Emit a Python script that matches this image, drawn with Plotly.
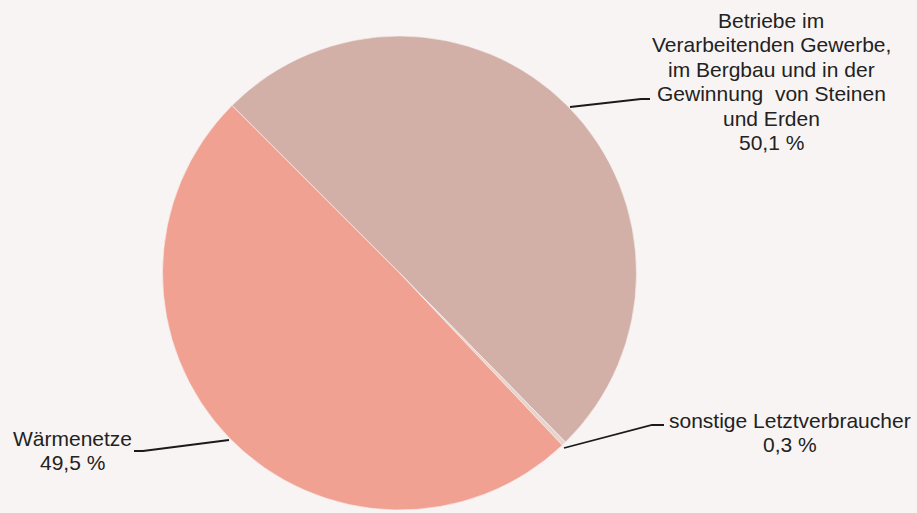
import plotly.graph_objects as go

W, H = 917, 513

labels = [
    "Betriebe im Verarbeitenden Gewerbe, im Bergbau und in der Gewinnung von Steinen und Erden",
    "sonstige Letztverbraucher",
    "Wärmenetze",
]
# label text as it is broken into lines in the chart
label_lines = [
    ["Betriebe im", "Verarbeitenden Gewerbe,", "im Bergbau und in der",
     "Gewinnung  von Steinen", "und Erden"],
    ["sonstige Letztverbraucher"],
    ["Wärmenetze"],
]
values = [50.1, 0.3, 49.5]
value_text = ["50,1 %", "0,3 %", "49,5 %"]
colors = ["#D2B0A7", "#E9D3CD", "#F0A191"]

# label centre x and first line y (px), leader line points (px)
label_pos = [(771, 20), (790, 420), (72, 438)]
line_gap = 24.6
leaders = [
    [(570, 107), (641, 99), (650, 99)],
    [(564, 448), (652, 425), (664, 425)],
    [(229, 440), (143, 451), (134, 451)],
]


def px(x, y):
    return x / W, 1 - y / H


fig = go.Figure()
fig.add_trace(go.Pie(
    labels=labels, values=values, sort=False, direction="clockwise", rotation=-45,
    marker=dict(colors=colors, line=dict(color="#F8F4F3", width=0.6)),
    textinfo="none", hoverinfo="label+value", showlegend=False,
    domain=dict(x=[(399.5 - 237) / W, (399.5 + 237) / W], y=[1 - 510 / H, 1 - 36 / H]),
))

for lines, val, (cx, cy), pts in zip(label_lines, value_text, label_pos, leaders):
    for i, t in enumerate(lines + [val]):
        x, y = px(cx, cy + i * line_gap)
        fig.add_annotation(x=x, y=y, xref="paper", yref="paper", text=t,
                           showarrow=False, xanchor="center", yanchor="middle",
                           font=dict(family="Liberation Sans, Arial", size=21, color="#222222"))
    path = "M " + " L ".join("{:.5f},{:.5f}".format(*px(a, b)) for a, b in pts)
    fig.add_shape(type="path", path=path, xref="paper", yref="paper",
                  line=dict(color="#1a1a1a", width=1.8))

fig.update_layout(
    width=W, height=H, margin=dict(l=0, r=0, t=0, b=0),
    paper_bgcolor="#F8F4F3", plot_bgcolor="#F8F4F3",
)
fig.write_html("out.html", config={"displayModeBar": False},
               post_script="document.body.style.margin='0';"
                           "document.body.style.background='#F8F4F3';")
